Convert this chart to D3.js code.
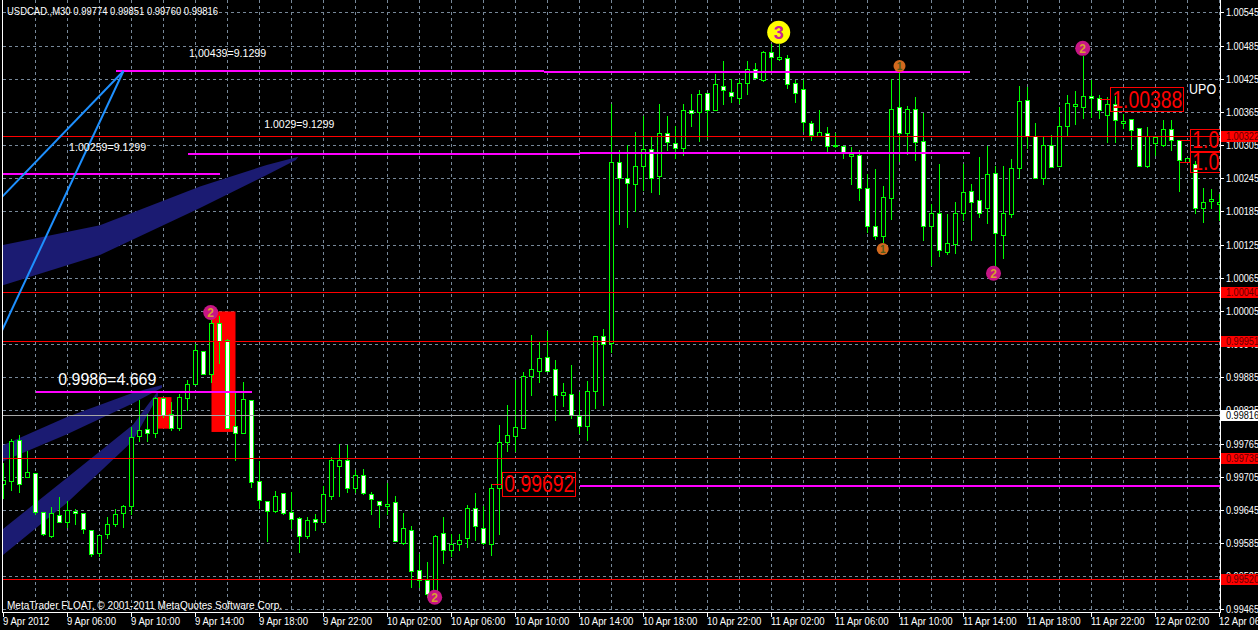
<!DOCTYPE html>
<html><head><meta charset="utf-8">
<script src="https://cdn.jsdelivr.net/npm/d3@7"></script>
<style>
html,body{margin:0;padding:0;background:#000;overflow:hidden}
svg{display:block}
text{font-family:"Liberation Sans",Arial,sans-serif}
</style></head><body>
<svg id="c" width="1258" height="630"></svg>
<script>
// ---- data (USDCAD M30, bars 9 Apr 02:00 .. 12 Apr 06:00) ----
const opens=[.99692,.99698,.99771,.99705,.99712,.99641,.99598,.99635,.99624,.99643,
.99639,.99609,.99567,.99601,.99619,.99639,.99652,.99778,.99791,.99784,
.99847,.99819,.99793,.99848,.99873,.99932,.99891,.99983,.99952,.99796,
.99785,.99843,.99697,.99662,.99643,.99676,.99641,.99630,.99598,.99628,
.99623,.99671,.99725,.99736,.99685,.99709,.99674,.99661,.99652,.99659,
.99586,.99609,.99536,.99519,.99498,.99603,.99573,.99584,.99595,.99648,
.99613,.99584,.99685,.99768,.99779,.99793,.99887,.99897,.99922,.99900,
.99853,.99855,.99815,.99796,.99861,.99960,.99947,1.00274,1.00246,1.00235,
1.00267,1.00297,1.00249,1.00327,1.00309,1.00300,1.00368,1.00364,1.00400,1.00368,
1.00412,1.00401,1.00390,1.00417,1.00443,1.00423,1.00473,1.00461,1.00462,1.00417,
1.00406,1.00345,1.00321,1.00326,1.00306,1.00303,1.00286,1.00287,1.00227,1.00158,
1.00141,1.00209,1.00374,1.00327,1.00371,1.00312,1.00159,1.00183,1.00112,1.00126,
1.00183,1.00221,1.00206,1.00192,1.00254,1.00143,1.00180,1.00263,1.00386,1.00321,
1.00246,1.00306,1.00268,1.00339,1.00375,1.00373,1.00394,1.00391,1.00359,1.00379,
1.00345,1.00353,1.00335,1.00268,1.00309,1.00305,1.00334,1.00314,1.00274,1.00271,
1.00191,1.00204,1.00198];
const highs=[.99730,.99773,.99781,.99752,.99712,.99641,.99650,.99668,.99662,.99647,
.99639,.99609,.99599,.99633,.99647,.99654,.99795,.99843,.99819,.99849,
.99847,.99841,.99854,.99880,.99946,.99932,.99989,.99995,.99955,.99856,
.99876,.99843,.99733,.99662,.99680,.99676,.99678,.99633,.99632,.99637,
.99688,.99741,.99764,.99762,.99717,.99719,.99677,.99661,.99694,.99670,
.99639,.99615,.99565,.99550,.99600,.99633,.99602,.99602,.99653,.99676,
.99652,.99691,.99799,.99835,.99880,.99895,.99961,.99948,.99969,.99916,
.99875,.99908,.99858,.99879,.99959,.99973,1.00379,1.00296,1.00306,1.00328,
1.00357,1.00320,1.00379,1.00357,1.00339,1.00379,1.00397,1.00405,1.00400,1.00433,
1.00457,1.00424,1.00424,1.00457,1.00453,1.00476,1.00487,1.00488,1.00468,1.00423,
1.00423,1.00348,1.00369,1.00338,1.00327,1.00303,1.00301,1.00296,1.00252,1.00262,
1.00231,1.00424,1.00448,1.00376,1.00392,1.00363,1.00198,1.00271,1.00180,1.00202,
1.00271,1.00235,1.00283,1.00303,1.00268,1.00268,1.00280,1.00412,1.00410,1.00345,
1.00322,1.00323,1.00373,1.00395,1.00403,1.00467,1.00423,1.00395,1.00392,1.00393,
1.00361,1.00353,1.00335,1.00338,1.00322,1.00350,1.00350,1.00314,1.00282,1.00276,
1.00227,1.00225,1.00216];
const lows=[.99667,.99681,.99677,.99705,.99637,.99600,.99596,.99624,.99614,.99620,
.99604,.99562,.99561,.99594,.99616,.99614,.99638,.99770,.99770,.99777,
.99813,.99790,.99790,.99826,.99873,.99890,.99877,.99910,.99794,.99736,
.99784,.99686,.99648,.99588,.99642,.99638,.99613,.99568,.99594,.99609,
.99623,.99665,.99670,.99677,.99677,.99674,.99638,.99614,.99638,.99589,
.99583,.99506,.99506,.99488,.99487,.99549,.99561,.99572,.99578,.99591,
.99584,.99563,.99602,.99752,.99752,.99793,.99853,.99877,.99897,.99808,
.99833,.99811,.99785,.99771,.99830,.99835,.99930,1.00163,1.00157,1.00186,
1.00223,1.00220,1.00217,1.00296,1.00282,1.00287,1.00340,1.00312,1.00317,1.00368,
1.00379,1.00383,1.00381,1.00397,1.00426,1.00421,1.00440,1.00459,1.00409,1.00383,
1.00330,1.00315,1.00321,1.00293,1.00301,1.00282,1.00235,1.00206,1.00147,1.00135,
1.00129,1.00171,1.00276,1.00289,1.00278,1.00134,1.00088,1.00105,1.00108,1.00110,
1.00170,1.00134,1.00174,1.00164,1.00085,1.00100,1.00174,1.00245,1.00299,1.00246,
1.00235,1.00265,1.00268,1.00321,1.00344,1.00354,1.00356,1.00354,1.00310,1.00311,
1.00336,1.00297,1.00267,1.00265,1.00287,1.00303,1.00296,1.00221,1.00274,1.00183,
1.00165,1.00192,1.00169];
const closes=[.99699,.99770,.99691,.99713,.99641,.99601,.99639,.99624,.99644,.99639,
.99610,.99565,.99599,.99619,.99637,.99652,.99777,.99789,.99785,.99847,
.99817,.99793,.99849,.99872,.99934,.99891,.99983,.99950,.99794,.99785,
.99846,.99695,.99663,.99643,.99671,.99639,.99628,.99597,.99627,.99623,
.99674,.99735,.99735,.99684,.99709,.99676,.99665,.99654,.99656,.99589,
.99612,.99535,.99519,.99493,.99597,.99573,.99583,.99590,.99648,.99615,
.99586,.99685,.99767,.99781,.99795,.99887,.99900,.99919,.99897,.99853,
.99858,.99817,.99797,.99861,.99959,.99945,1.00274,1.00246,1.00236,1.00267,
1.00297,1.00246,1.00326,1.00310,1.00299,1.00368,1.00363,1.00398,1.00368,1.00416,
1.00404,1.00393,1.00417,1.00443,1.00426,1.00473,1.00464,1.00464,1.00416,1.00400,
1.00346,1.00323,1.00328,1.00304,1.00303,1.00292,1.00289,1.00227,1.00159,1.00140,
1.00211,1.00371,1.00327,1.00371,1.00311,1.00159,1.00182,1.00116,1.00128,1.00182,
1.00220,1.00202,1.00183,1.00252,1.00146,1.00182,1.00263,1.00385,1.00321,1.00246,
1.00306,1.00265,1.00339,1.00381,1.00379,1.00394,1.00391,1.00368,1.00380,1.00350,
1.00348,1.00332,1.00267,1.00321,1.00320,1.00334,1.00315,1.00278,1.00282,1.00191,
1.00202,1.00207,1.00202];

const xTickBars=[0,8,16,24,32,40,48,56,64,72,80,88,96,104,112,120,128,136,144,152];
const xTickLabels=["9 Apr 2012","9 Apr 06:00","9 Apr 10:00","9 Apr 14:00","9 Apr 18:00","9 Apr 22:00",
"10 Apr 02:00","10 Apr 06:00","10 Apr 10:00","10 Apr 14:00","10 Apr 18:00","10 Apr 22:00",
"11 Apr 02:00","11 Apr 06:00","11 Apr 10:00","11 Apr 14:00","11 Apr 18:00","11 Apr 22:00",
"12 Apr 02:00","12 Apr 06:00"];
const yTicks=[1.00545,1.00485,1.00425,1.00365,1.00305,1.00245,1.00185,1.00125,1.00065,1.00005,
0.99945,0.99885,0.99825,0.99765,0.99705,0.99645,0.99585,0.99525,0.99465];
const gridBars=[4,8,12,16,20,24,28,32,36,40,44,48,52,56,60,64,68,72,76,80,84,88,92,96,100,104,108,112,116,120,124,128,132,136,140,144,148,152];

const redLevels=[1.00322,1.00040,0.99951,0.99738,0.99520];
const bidLevel=0.99816;
// magenta segments: [barFrom, barTo, price]
const magentaSegs=[[14,67.5,1.00439],[67.5,120.8,1.00437],[23,72.1,1.00289],[72.1,120.8,1.00291],
[-1,27,1.00253],[4,31,0.99859],[72,154,0.99689]];
// blue trend lines: [[bar,price],[bar,price]]
const blueLines=[[[-0.2,1.00211],[15,1.00439]],[[-0.2,0.99969],[15,1.00439]]];
// navy channel fills
const ribbonA=[[-0.2,1.00124],[12.06,1.00160],[24.56,1.00230],[32.9,1.00269],[36.85,1.00284],
[36.56,1.00278],[32.9,1.00251],[24.56,1.00191],[12.06,1.00106],[-0.2,1.00051]];
const ribbonB1=[[-0.2,0.99761],[7.94,0.99813],[16.19,0.99857],[19.81,0.99871],
[19.81,0.99866],[16.19,0.99838],[7.94,0.99782],[-0.2,0.99732]];
const ribbonB2=[[-0.2,0.99609],[7.94,0.99703],[16.19,0.99799],[19.31,0.99860],
[19.31,0.99851],[16.19,0.99770],[7.94,0.99658],[-0.2,0.99562]];
// red rectangles: [barFrom, barTo, priceLow, priceHigh]
const redRects=[[19.25,21,0.99792,0.99849],[26,29,0.99786,1.00004]];
// zigzag markers: [bar, price, label, kind]
const markers=[[96.9,1.00509,"3",3],[25.9,1.00002,"2",2],[53.9,0.99487,"2",2],[123.75,1.00073,"2",2],
[134.9,1.00480,"2",2],[112,1.00448,"1",1],[109.9,1.00117,"1",1]];
// white text notes: [bar, price(baseline), text, size, width]
const notes=[[23.2,1.00464,"1,00439=9.1299",11,77],[32.6,1.00336,"1.0029=9.1299",11,70],
[8.2,1.00294,"1.00259=9.1299",11,77],[6.85,0.99871,"0.9986=4.669",17,98],[148.2,1.00397,"UPO",14,27]];
// red boxed price labels: [fromBar, boxLeftBar, price, text, height]
const boxes=[[61,62.35,0.99692,"0.99692",24],[137,138.35,1.00388,"1.00388",24],
[147,148.35,1.00315,"1.00315",22],[147,148.35,1.00275,"1.00275",20]];

// ---- drawing ----
const svg=d3.select('#c');
const x=d3.scaleLinear().domain([0,152]).range([3.5,1219.5]);
const y=d3.scaleLinear().domain([0.99465,1.00545]).range([609.4,12.4]);
const PR=1220, PB=612;
const py=v=>Math.round(y(v));

svg.append('rect').attr('width',1258).attr('height',630).attr('fill','#000');
svg.append('defs').append('clipPath').attr('id','pc').append('rect')
  .attr('x',3).attr('y',0).attr('width',PR-3).attr('height',PB);
const plot=svg.append('g').attr('clip-path','url(#pc)');

// grid
const grid=plot.append('g').attr('stroke','#778899').attr('stroke-dasharray','3,3').attr('shape-rendering','crispEdges');
grid.selectAll('.h').data(yTicks).join('line').attr('x1',3).attr('x2',PR)
  .attr('y1',d=>py(d)+0.5).attr('y2',d=>py(d)+0.5);
grid.selectAll('.v').data(gridBars).join('line').attr('x1',d=>x(d)).attr('x2',d=>x(d))
  .attr('y1',0).attr('y2',PB);

// background objects
const poly=pts=>pts.map(p=>[x(p[0]),y(p[1])].join(',')).join(' ');
[ribbonA,ribbonB1,ribbonB2].forEach(r=>plot.append('polygon').attr('points',poly(r)).attr('fill','#1b1b72'));
plot.selectAll('.rr').data(redRects).join('rect')
  .attr('x',d=>x(d[0])).attr('width',d=>x(d[1])-x(d[0]))
  .attr('y',d=>y(d[3])).attr('height',d=>y(d[2])-y(d[3])).attr('fill','#ff0000');

// candles
const cg=plot.append('g').attr('shape-rendering','crispEdges');
opens.forEach((o,i)=>{
  const c=closes[i], h=highs[i], l=lows[i];
  const cx=x(i);
  const yh=py(h), yl=py(l);
  cg.append('rect').attr('x',cx-0.5).attr('width',1).attr('y',yh).attr('height',Math.max(1,yl-yh+1)).attr('fill','#00ff00');
  const top=py(Math.max(o,c)), bot=py(Math.min(o,c));
  cg.append('rect').attr('x',cx-2.5).attr('width',5).attr('y',top).attr('height',bot-top+1).attr('fill','#00ff00');
  if(bot-top>=2){
    cg.append('rect').attr('x',cx-1.5).attr('width',3).attr('y',top+1).attr('height',bot-top-1)
      .attr('fill',c<o?'#ffffff':'#000000');
  }
});

// horizontal lines
const lg=plot.append('g').attr('shape-rendering','crispEdges');
lg.selectAll('.rl').data(redLevels).join('line').attr('x1',3).attr('x2',PR)
  .attr('y1',d=>py(d)+0.5).attr('y2',d=>py(d)+0.5).attr('stroke','#ff0000');
lg.append('line').attr('x1',3).attr('x2',PR).attr('y1',py(bidLevel)+0.5).attr('y2',py(bidLevel)+0.5).attr('stroke','#a8a8a8');
lg.selectAll('.ml').data(magentaSegs).join('rect').attr('x',d=>x(d[0])).attr('width',d=>x(d[1])-x(d[0]))
  .attr('y',d=>py(d[2])-1).attr('height',2).attr('fill','#ff00ff');
blueLines.forEach(b=>plot.append('line').attr('x1',x(b[0][0])).attr('y1',y(b[0][1]))
  .attr('x2',x(b[1][0])).attr('y2',y(b[1][1])).attr('stroke','#1e90ff').attr('stroke-width',2));

// boxed red labels
boxes.forEach(b=>{
  const yc=y(b[2]), bx=x(b[1]), hgt=b[4];
  plot.append('line').attr('x1',x(b[0])).attr('x2',bx).attr('y1',Math.round(yc)+0.5).attr('y2',Math.round(yc)+0.5)
    .attr('stroke','#ff0000').attr('shape-rendering','crispEdges');
  plot.append('rect').attr('x',Math.round(bx)+0.5).attr('y',Math.round(yc-hgt/2)+0.5).attr('width',73).attr('height',hgt)
    .attr('fill','none').attr('stroke','#ff0000');
  plot.append('text').attr('x',bx+2).attr('y',yc+8.5).attr('fill','#ff0000').attr('font-size',23)
    .attr('textLength',70).attr('lengthAdjust','spacingAndGlyphs').text(b[3]);
});

// notes
notes.forEach(n=>plot.append('text').attr('x',x(n[0])).attr('y',y(n[1])).attr('fill','#ffffff')
  .attr('font-size',n[3]).attr('textLength',n[4]).attr('lengthAdjust','spacingAndGlyphs').text(n[2]));

// markers
markers.forEach(m=>{
  const cx=x(m[0]), cy=y(m[1]);
  const st=m[3]===3?{r:11.5,f:'#ffff00',t:'#c8209a',s:18}:m[3]===2?{r:7.5,f:'#c71585',t:'#d8a030',s:12}:{r:6,f:'#d2691e',t:'#4f5a1a',s:10};
  plot.append('circle').attr('cx',cx).attr('cy',cy).attr('r',st.r).attr('fill',st.f);
  plot.append('text').attr('x',cx).attr('y',cy+st.s*0.36).attr('text-anchor','middle').attr('font-weight','bold')
    .attr('font-size',st.s).attr('fill',st.t).text(m[2]);
});

// chrome text
svg.append('text').attr('x',7).attr('y',14.5).attr('fill','#fff').attr('font-size',11)
  .attr('textLength',211).attr('lengthAdjust','spacingAndGlyphs').text('USDCAD.,M30  0.99774 0.99851 0.99760 0.99816');
svg.append('text').attr('x',7).attr('y',609).attr('fill','#fff').attr('font-size',11)
  .attr('textLength',275).attr('lengthAdjust','spacingAndGlyphs').text('MetaTrader FLOAT, \u00a9 2001-2011 MetaQuotes Software Corp.');

// frame
const fr=svg.append('g').attr('stroke','#fff').attr('shape-rendering','crispEdges');
fr.append('line').attr('x1',2.5).attr('x2',2.5).attr('y1',0).attr('y2',PB+0.5);
fr.append('line').attr('x1',PR+0.5).attr('x2',PR+0.5).attr('y1',0).attr('y2',PB+0.5);
fr.append('line').attr('x1',2).attr('x2',PR+1).attr('y1',PB+0.5).attr('y2',PB+0.5);

// y axis
const ya=svg.append('g');
ya.selectAll('line').data(yTicks).join('line').attr('x1',PR).attr('x2',PR+4)
  .attr('y1',d=>py(d)+0.5).attr('y2',d=>py(d)+0.5).attr('stroke','#fff').attr('shape-rendering','crispEdges');
ya.selectAll('text').data(yTicks).join('text').attr('x',1226).attr('y',d=>y(d)+4).attr('fill','#fff')
  .attr('font-size',11).attr('textLength',33).attr('lengthAdjust','spacingAndGlyphs').text(d=>d.toFixed(5));
// price labels
redLevels.forEach(v=>{
  const yy=py(v);
  ya.append('rect').attr('x',1221).attr('y',yy-5).attr('width',37).attr('height',11).attr('fill','#ff0000');
  ya.append('text').attr('x',1226).attr('y',yy+4).attr('fill','#600000').attr('font-size',11)
    .attr('textLength',33).attr('lengthAdjust','spacingAndGlyphs').text(v.toFixed(5));
});
{
  const yy=py(bidLevel);
  ya.append('rect').attr('x',1221).attr('y',yy-5).attr('width',37).attr('height',11).attr('fill','#ffffff');
  ya.append('text').attr('x',1226).attr('y',yy+4).attr('fill','#000').attr('font-size',11)
    .attr('textLength',33).attr('lengthAdjust','spacingAndGlyphs').text(bidLevel.toFixed(5));
}

// x axis
const xa=svg.append('g');
xa.selectAll('line').data(xTickBars).join('line').attr('x1',d=>x(d)).attr('x2',d=>x(d))
  .attr('y1',PB).attr('y2',PB+5).attr('stroke','#fff').attr('shape-rendering','crispEdges');
xa.selectAll('text').data(xTickBars).join('text').attr('x',d=>x(d)-0.5).attr('y',625).attr('fill','#fff')
  .attr('font-size',11).text((d,i)=>xTickLabels[i])
  .each(function(){const w=this.getComputedTextLength();d3.select(this).attr('textLength',w*0.87).attr('lengthAdjust','spacingAndGlyphs');});
</script>
</body></html>
